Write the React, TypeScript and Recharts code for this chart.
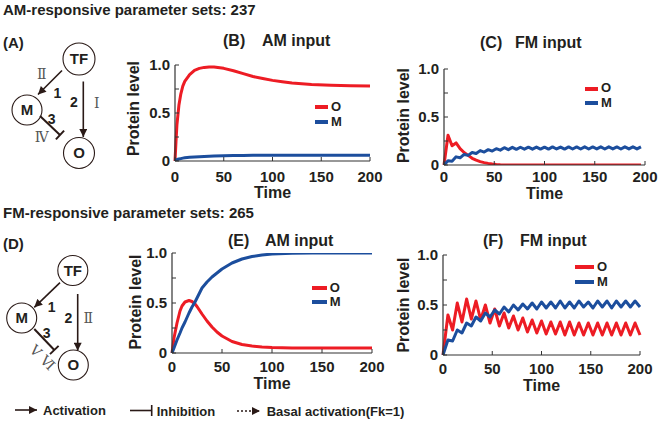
import React from 'react';
import { LineChart, Line, XAxis, YAxis, Legend } from 'recharts';

const RED = '#ed1c24';
const BLUE = '#1c4e9d';
const INK = '#231f20';
const DARK = '#2a1a17';
const FONT = '"Liberation Sans", Arial, sans-serif';

const xTicks = [0, 50, 100, 150, 200];
const yTicks = [0, 0.25, 0.5, 0.75, 1];
const yTickText: Record<string, string> = { '0': '0', '0.5': '0.5', '1': '1.0' };
const seriesNames = ['O', 'M'];

// Panel B: AM input, AM-responsive
const timeB = [0, 1, 2, 4, 6, 8, 10, 15, 20, 25, 30, 35, 40, 50, 60, 70, 80, 90, 100, 110, 120, 140, 160, 180, 200];
const oB = [0, 0.2, 0.38, 0.58, 0.7, 0.78, 0.83, 0.9, 0.945, 0.965, 0.975, 0.98, 0.978, 0.965, 0.94, 0.91, 0.88, 0.86, 0.84, 0.825, 0.812, 0.798, 0.79, 0.785, 0.78];
const mB = [0, 0.01, 0.015, 0.02, 0.025, 0.03, 0.033, 0.038, 0.042, 0.045, 0.048, 0.05, 0.052, 0.055, 0.057, 0.058, 0.059, 0.06, 0.06, 0.06, 0.06, 0.06, 0.06, 0.06, 0.06];

// Panel C: FM input, AM-responsive
const timeC = [0, 4, 8, 12, 16, 20, 24, 28, 32, 36, 40, 44, 48, 52, 56, 60, 64, 68, 72, 76, 80, 84, 88, 92, 96, 100, 104, 108, 112, 116, 120, 124, 128, 132, 136, 140, 144, 148, 152, 156, 160, 164, 168, 172, 176, 180, 184, 188, 192, 196];
const oC = [0, 0.31, 0.2, 0.23, 0.17, 0.13, 0.1, 0.07, 0.05, 0.035, 0.025, 0.017, 0.01, 0.006, 0.003, 0.001, 0, 0, 0, 0, 0, 0, 0, 0, 0, 0, 0, 0, 0, 0, 0, 0, 0, 0, 0, 0, 0, 0, 0, 0, 0, 0, 0, 0, 0, 0, 0, 0, 0, 0];
const mC = [0, 0.045, 0.04, 0.085, 0.075, 0.11, 0.1, 0.13, 0.12, 0.15, 0.135, 0.16, 0.145, 0.17, 0.155, 0.18, 0.16, 0.184, 0.163, 0.185, 0.165, 0.186, 0.165, 0.187, 0.166, 0.186, 0.166, 0.188, 0.167, 0.187, 0.166, 0.188, 0.167, 0.188, 0.167, 0.189, 0.167, 0.188, 0.168, 0.189, 0.167, 0.189, 0.168, 0.188, 0.167, 0.189, 0.168, 0.189, 0.168, 0.189];

// Panel E: AM input, FM-responsive
const timeE = [0, 2, 5, 8, 10, 13, 17, 20, 23, 25, 30, 35, 40, 45, 50, 60, 70, 80, 90, 100, 120, 140, 160, 180, 200];
const oE = [0, 0.15, 0.3, 0.42, 0.47, 0.51, 0.525, 0.515, 0.49, 0.465, 0.39, 0.32, 0.26, 0.21, 0.17, 0.115, 0.085, 0.07, 0.06, 0.055, 0.05, 0.05, 0.05, 0.05, 0.05];
const mE = [0, 0.05, 0.13, 0.2, 0.25, 0.31, 0.4, 0.46, 0.51, 0.55, 0.65, 0.71, 0.76, 0.8, 0.84, 0.9, 0.94, 0.965, 0.98, 0.99, 0.997, 1.0, 1.0, 1.0, 1.0];

// Panel F: FM input, FM-responsive
const timeF = [0, 5, 9.75, 14.5, 19.25, 24, 28.75, 33.5, 38.25, 43, 47.75, 52.5, 57.25, 62, 66.75, 71.5, 76.25, 81, 85.75, 90.5, 95.25, 100, 104.75, 109.5, 114.25, 119, 123.75, 128.5, 133.25, 138, 142.75, 147.5, 152.25, 157, 161.75, 166.5, 171.25, 176, 180.75, 185.5, 190.25, 195, 200];
const oF = [0, 0.4, 0.25, 0.52, 0.33, 0.56, 0.36, 0.54, 0.35, 0.5, 0.32, 0.46, 0.29, 0.42, 0.27, 0.39, 0.25, 0.37, 0.23, 0.35, 0.22, 0.34, 0.21, 0.33, 0.21, 0.33, 0.2, 0.33, 0.2, 0.32, 0.2, 0.32, 0.2, 0.32, 0.2, 0.32, 0.2, 0.32, 0.2, 0.32, 0.2, 0.32, 0.2];
const mF = [0, 0.15, 0.14, 0.25, 0.22, 0.32, 0.29, 0.38, 0.34, 0.42, 0.38, 0.45, 0.41, 0.48, 0.43, 0.5, 0.45, 0.51, 0.46, 0.52, 0.46, 0.53, 0.47, 0.53, 0.47, 0.54, 0.47, 0.53, 0.47, 0.54, 0.48, 0.53, 0.47, 0.54, 0.48, 0.54, 0.47, 0.54, 0.48, 0.54, 0.48, 0.54, 0.48];

const build = (t: number[], o: number[], m: number[]) => t.map((v, i) => ({ t: v, O: o[i], M: m[i] }));

const makeLegend = (lineLen: number, rowH: number) => (props: any) => {
  const payload = [...(props.payload || [])].sort(
    (a: any, b: any) => seriesNames.indexOf(a.value) - seriesNames.indexOf(b.value)
  );
  return (
    <div>
      {payload.map((e: any) => (
        <div key={e.value} style={{ display: 'flex', alignItems: 'center', height: rowH }}>
          <svg width={lineLen} height={6} style={{ display: 'block' }}>
            <line x1={0} y1={3} x2={lineLen} y2={3} stroke={e.color} strokeWidth={4} />
          </svg>
          <span style={{ marginLeft: 3, fontSize: 13, fontWeight: 700, color: INK, fontFamily: FONT, lineHeight: rowH + 'px' }}>
            {e.value}
          </span>
        </div>
      ))}
    </div>
  );
};

type PanelProps = {
  left: number;
  top: number;
  width: number;
  height: number;
  data: any[];
  mTop: number;
  mRight: number;
  yAxisW: number;
  xAxisH: number;
  xTickMargin: number;
  timeOffset: number;
  yLabelX: number;
  yLabelDy: number;
  legLeft: number;
  legTop: number;
  legLen: number;
  legRow: number;
};

function Panel(p: PanelProps) {
  const tickStyle = { fontSize: 15, fontWeight: 700, fill: INK, fontFamily: FONT };
  const labelStyle = { fontSize: 16, fontWeight: 700, fill: INK, fontFamily: FONT };
  return (
    <div style={{ position: 'absolute', left: p.left, top: p.top, width: p.width, height: p.height }}>
      <LineChart width={p.width} height={p.height} data={p.data} margin={{ top: p.mTop, right: p.mRight, bottom: 0, left: 0 }}>
        <XAxis
          dataKey="t"
          type="number"
          domain={[0, 200]}
          ticks={xTicks}
          interval={0}
          height={p.xAxisH}
          tickSize={-4}
          tickMargin={p.xTickMargin}
          axisLine={{ stroke: '#333', strokeWidth: 1.2 }}
          tickLine={{ stroke: '#333', strokeWidth: 1 }}
          tick={tickStyle}
          label={{ value: 'Time', position: 'insideBottom', offset: p.timeOffset, style: labelStyle }}
        />
        <YAxis
          type="number"
          domain={[0, 1]}
          ticks={yTicks}
          interval={0}
          allowDataOverflow
          width={p.yAxisW}
          tickSize={-4}
          tickMargin={9}
          tickFormatter={(v: number) => yTickText[String(v)] ?? ''}
          axisLine={{ stroke: '#333', strokeWidth: 1.2 }}
          tickLine={{ stroke: '#333', strokeWidth: 1 }}
          tick={tickStyle}
          label={{
            value: 'Protein level',
            angle: -90,
            position: 'insideLeft',
            offset: p.yLabelX,
            dy: p.yLabelDy,
            style: { ...labelStyle, textAnchor: 'middle' },
          }}
        />
        <Legend
          layout="vertical"
          align="center"
          verticalAlign="middle"
          content={makeLegend(p.legLen, p.legRow)}
          wrapperStyle={{ left: p.legLeft, top: p.legTop, width: 'auto', height: 'auto' }}
        />
        <Line type="linear" dataKey="O" name="O" stroke={RED} strokeWidth={3} strokeLinejoin="round" dot={false} activeDot={false} isAnimationActive={false} />
        <Line type="linear" dataKey="M" name="M" stroke={BLUE} strokeWidth={3} strokeLinejoin="round" dot={false} activeDot={false} isAnimationActive={false} />
      </LineChart>
    </div>
  );
}

const headStyle: React.CSSProperties = { fontSize: 15, fontWeight: 700, fill: INK, fontFamily: FONT };
const titleStyle: React.CSSProperties = { fontSize: 16, fontWeight: 700, fill: INK, fontFamily: FONT };
const nodeStyle: React.CSSProperties = { fontSize: 15, fontWeight: 700, fill: INK, fontFamily: FONT };
const numStyle: React.CSSProperties = { fontSize: 14, fontWeight: 700, fill: INK, fontFamily: FONT };
const romanStyle: React.CSSProperties = { fontSize: 14, fill: '#555', fontFamily: '"DejaVu Serif", "Liberation Serif", serif' };
const legStyle: React.CSSProperties = { fontSize: 13, fontWeight: 700, fill: INK, fontFamily: FONT };

function Overlay() {
  return (
    <svg width={660} height={423} style={{ position: 'absolute', left: 0, top: 0, pointerEvents: 'none' }}>
      <defs>
        <marker id="ah" viewBox="0 0 10 10" refX="10" refY="5" markerWidth="9" markerHeight="8" markerUnits="userSpaceOnUse" orient="auto">
          <path d="M0,0 L10,5 L0,10 z" fill={DARK} />
        </marker>
      </defs>

      {/* headings */}
      <text x={3} y={15.4} style={headStyle}>AM-responsive parameter sets: 237</text>
      <text x={3} y={48} style={headStyle}>(A)</text>
      <text x={3} y={218.4} style={headStyle}>FM-responsive parameter sets: 265</text>
      <text x={3} y={248.5} style={headStyle}>(D)</text>

      {/* panel titles */}
      <text x={223} y={45.7} style={titleStyle}>(B)</text>
      <text x={262} y={45.7} style={titleStyle}>AM input</text>
      <text x={480} y={47.7} style={titleStyle}>(C)</text>
      <text x={515} y={47.7} style={titleStyle}>FM input</text>
      <text x={228} y={246.4} style={titleStyle}>(E)</text>
      <text x={265} y={246.4} style={titleStyle}>AM input</text>
      <text x={483} y={245.7} style={titleStyle}>(F)</text>
      <text x={520} y={245.7} style={titleStyle}>FM input</text>

      {/* diagram A */}
      <circle cx={79} cy={59} r={16} fill="#fff" stroke={DARK} strokeWidth={1.1} />
      <text x={79} y={64.3} textAnchor="middle" style={nodeStyle}>TF</text>
      <circle cx={27} cy={110} r={15} fill="#fff" stroke={DARK} strokeWidth={1.1} />
      <text x={27} y={115.3} textAnchor="middle" style={nodeStyle}>M</text>
      <circle cx={79} cy={153} r={15.5} fill="#fff" stroke={DARK} strokeWidth={1.1} />
      <text x={79} y={158.3} textAnchor="middle" style={nodeStyle}>O</text>
      <line x1={62} y1={70.5} x2={38} y2={94.5} stroke={DARK} strokeWidth={1.6} markerEnd="url(#ah)" />
      <line x1={83.3} y1={81.5} x2={83.3} y2={137} stroke={DARK} strokeWidth={1.6} markerEnd="url(#ah)" />
      <line x1={40} y1={116} x2={60} y2={135} stroke={DARK} strokeWidth={2} />
      <line x1={55.9} y1={139.4} x2={64.1} y2={130.6} stroke={DARK} strokeWidth={2} />
      <text x={57.3} y={98.3} textAnchor="middle" style={numStyle}>1</text>
      <text x={74} y={106.7} textAnchor="middle" style={numStyle}>2</text>
      <text x={51.7} y={124.3} textAnchor="middle" style={numStyle}>3</text>
      <text x={41.7} y={79} textAnchor="middle" style={romanStyle}>Ⅱ</text>
      <text x={96.7} y={108.3} textAnchor="middle" style={romanStyle}>Ⅰ</text>
      <text x={41.7} y={141.7} textAnchor="middle" style={romanStyle}>Ⅳ</text>

      {/* diagram D */}
      <circle cx={72.8} cy={270.5} r={15} fill="#fff" stroke={DARK} strokeWidth={1.1} />
      <text x={72.8} y={275.8} textAnchor="middle" style={nodeStyle}>TF</text>
      <circle cx={21.7} cy={318} r={15} fill="#fff" stroke={DARK} strokeWidth={1.1} />
      <text x={21.7} y={323.3} textAnchor="middle" style={nodeStyle}>M</text>
      <circle cx={73.3} cy={365} r={15} fill="#fff" stroke={DARK} strokeWidth={1.1} />
      <text x={73.3} y={370.3} textAnchor="middle" style={nodeStyle}>O</text>
      <line x1={60} y1={282.7} x2={34.3} y2={307.3} stroke={DARK} strokeWidth={1.6} markerEnd="url(#ah)" />
      <line x1={77.7} y1={294} x2={77.7} y2={350.7} stroke={DARK} strokeWidth={1.6} markerEnd="url(#ah)" />
      <line x1={34.3} y1={329} x2={54.3} y2={350} stroke={DARK} strokeWidth={2} />
      <line x1={50} y1={354.1} x2={58.6} y2={345.9} stroke={DARK} strokeWidth={2} />
      <text x={51.7} y={311.7} textAnchor="middle" style={numStyle}>1</text>
      <text x={68.3} y={323.3} textAnchor="middle" style={numStyle}>2</text>
      <text x={46.7} y={338.3} textAnchor="middle" style={numStyle}>3</text>
      <text x={88.3} y={323.3} textAnchor="middle" style={romanStyle}>Ⅱ</text>
      <text x={0} y={0} textAnchor="middle" style={romanStyle} transform="translate(39,361) rotate(45)">Ⅴ Ⅵ</text>

      {/* bottom key */}
      <line x1={15} y1={410} x2={37} y2={410} stroke={DARK} strokeWidth={1.6} markerEnd="url(#ah)" />
      <text x={43} y={414.7} style={legStyle}>Activation</text>
      <line x1={130} y1={410.5} x2={151.7} y2={410.5} stroke={DARK} strokeWidth={1.6} />
      <line x1={151.7} y1={405} x2={151.7} y2={416} stroke={DARK} strokeWidth={1.6} />
      <text x={156.7} y={416} style={legStyle}>Inhibition</text>
      <line x1={237} y1={411} x2={260} y2={411} stroke={DARK} strokeWidth={1.5} strokeDasharray="2 2" markerEnd="url(#ah)" />
      <text x={266.7} y={416} style={legStyle}>Basal activation(Fk=1)</text>
    </svg>
  );
}

export default function App() {
  const dataB = build(timeB, oB, mB);
  const dataC = build(timeC, oC, mC);
  const dataE = build(timeE, oE, mE);
  const dataF = build(timeF, oF, mF);
  return (
    <div style={{ position: 'absolute', left: 0, top: 0, width: 660, height: 423, background: '#fff', overflow: 'hidden', fontFamily: FONT }}>
      <Panel left={120} top={30} width={270} height={175} data={dataB} mTop={35} mRight={20} yAxisW={55} xAxisH={44}
        xTickMargin={14} timeOffset={7} yLabelX={13} yLabelDy={-4.5} legLeft={195} legTop={70} legLen={13} legRow={14.5} />
      <Panel left={390} top={30} width={270} height={175} data={dataC} mTop={39} mRight={15} yAxisW={54} xAxisH={40}
        xTickMargin={10} timeOffset={6} yLabelX={13} yLabelDy={-1.5} legLeft={195} legTop={51.4} legLen={13} legRow={14.5} />
      <Panel left={120} top={220} width={270} height={175} data={dataE} mTop={33} mRight={18} yAxisW={52} xAxisH={42}
        xTickMargin={12} timeOffset={6} yLabelX={15} yLabelDy={-1} legLeft={191.7} legTop={60.5} legLen={15} legRow={14.5} />
      <Panel left={390} top={220} width={270} height={175} data={dataF} mTop={35} mRight={20} yAxisW={53} xAxisH={40}
        xTickMargin={12} timeOffset={4} yLabelX={13} yLabelDy={0} legLeft={185} legTop={40.2} legLen={19} legRow={14.5} />
      <Overlay />
    </div>
  );
}
